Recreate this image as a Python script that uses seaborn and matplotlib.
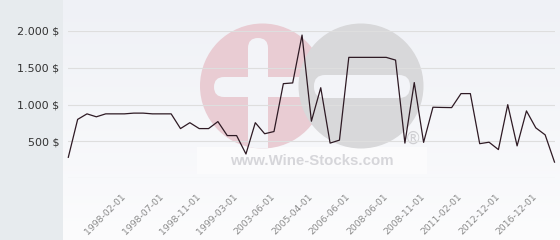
import numpy as np
import pandas as pd
import matplotlib
matplotlib.use("Agg")
import matplotlib.pyplot as plt
import seaborn as sns
from matplotlib.patches import Circle, FancyBboxPatch, Rectangle

# ---- data ----
prices = [285, 800, 875, 835, 875, 875, 875, 885, 885, 875, 875, 875,
          675, 755, 675, 675, 770, 580, 580, 330, 755, 605, 635, 1285,
          1295, 1945, 775, 1230, 478, 518, 1642, 1642, 1642, 1642, 1642,
          1605, 478, 1300, 488, 965, 962, 960, 1150, 1150, 470, 490, 390,
          1000, 440, 915, 685, 590, 220]
tick_labels = ["1998-02-01", "1998-07-01", "1998-11-01", "1999-03-01",
               "2003-06-01", "2005-04-01", "2006-06-01", "2008-06-01",
               "2008-11-01", "2011-02-01", "2012-12-01", "2016-12-01"]
first_labelled = 6
label_step = 4
y_ticks = [0, 500, 1000, 1500, 2000]
y_tick_labels = ["", "500 $", "1.000 $", "1.500 $", "2.000 $"]

df = pd.DataFrame({"idx": np.arange(len(prices)), "price": prices})

W, H = 560, 240
fig = plt.figure(figsize=(W / 100, H / 100), dpi=100)

# ---- background + watermark (pixel coordinates) ----
bg = fig.add_axes([0, 0, 1, 1])
bg.set_xlim(0, W)
bg.set_ylim(H, 0)
bg.axis("off")
grad = np.linspace(0, 1, 256).reshape(-1, 1)
top = np.array([239, 241, 246]) / 255
bot = np.array([252, 252, 253]) / 255
img = top[None, None, :] * (1 - grad[:, :, None]) + bot[None, None, :] * grad[:, :, None]
bg.imshow(img, extent=[63, W, H, 0], aspect="auto", zorder=0)
bg.add_patch(Rectangle((0, 0), 63, H, color="#e7ebee", zorder=1, lw=0))

wm_bg = "#f3f4f8"
bg.add_patch(Rectangle((197, 147), 230, 27, color="#fbfbfc", zorder=1, lw=0))
pink = Circle((262.5, 86), 62.5, color="#e9ccd3", zorder=2, lw=0)
bg.add_patch(pink)
vbar = FancyBboxPatch((248, 38), 20, 120, boxstyle="round,pad=0,rounding_size=10",
                      color=wm_bg, zorder=3, lw=0)
hbar = FancyBboxPatch((214, 77), 100, 20, boxstyle="round,pad=0,rounding_size=10",
                      color=wm_bg, zorder=3, lw=0)
bg.add_patch(vbar)
bg.add_patch(hbar)
vbar.set_clip_path(pink)
hbar.set_clip_path(pink)
gray = Circle((361, 86), 62.5, color="#d8d8da", zorder=4, lw=0)
bg.add_patch(gray)
gbar = FancyBboxPatch((314, 75), 96, 23, boxstyle="round,pad=0,rounding_size=11",
                      color=wm_bg, zorder=5, lw=0)
bg.add_patch(gbar)
bg.text(312, 161, "www.Wine-Stocks.com", ha="center", va="center",
        fontsize=10.8, fontweight="bold", family="Liberation Sans",
        color="#d6d6da", zorder=6)
bg.text(413, 139, "®", ha="center", va="center", fontsize=12,
        color="#cfcfd3", zorder=6)

# ---- main chart ----
ax = fig.add_axes([68.3 / W, 1 - 178.3 / H, (554.5 - 68.3) / W, (178.3 - 31) / H])
ax.set_facecolor("none")
sns.lineplot(data=df, x="idx", y="price", ax=ax, color="#2e1a24", linewidth=0.9,
             zorder=5, clip_on=False)
ax.set_xlim(0, len(prices) - 1)
ax.set_ylim(0, 2000)
ax.set_yticks(y_ticks)
ax.set_yticklabels(y_tick_labels)
ax.set_xticks(list(range(first_labelled, len(prices), label_step)))
ax.set_xticklabels(tick_labels)
ax.set_xlabel("")
ax.set_ylabel("")
for s in ax.spines.values():
    s.set_visible(False)
ax.grid(axis="y", color="#dedede", linewidth=0.8)
ax.grid(axis="x", visible=False)
ax.set_axisbelow(True)
ax.tick_params(axis="y", length=0, pad=6.5, labelsize=8, labelcolor="#333333")
ax.tick_params(axis="x", length=0, pad=12, labelsize=6.7, labelcolor="#8a8a8a")
plt.setp(ax.get_xticklabels(), rotation=45, ha="right", va="center",
         rotation_mode="anchor")

fig.savefig("out.png", dpi=100)
